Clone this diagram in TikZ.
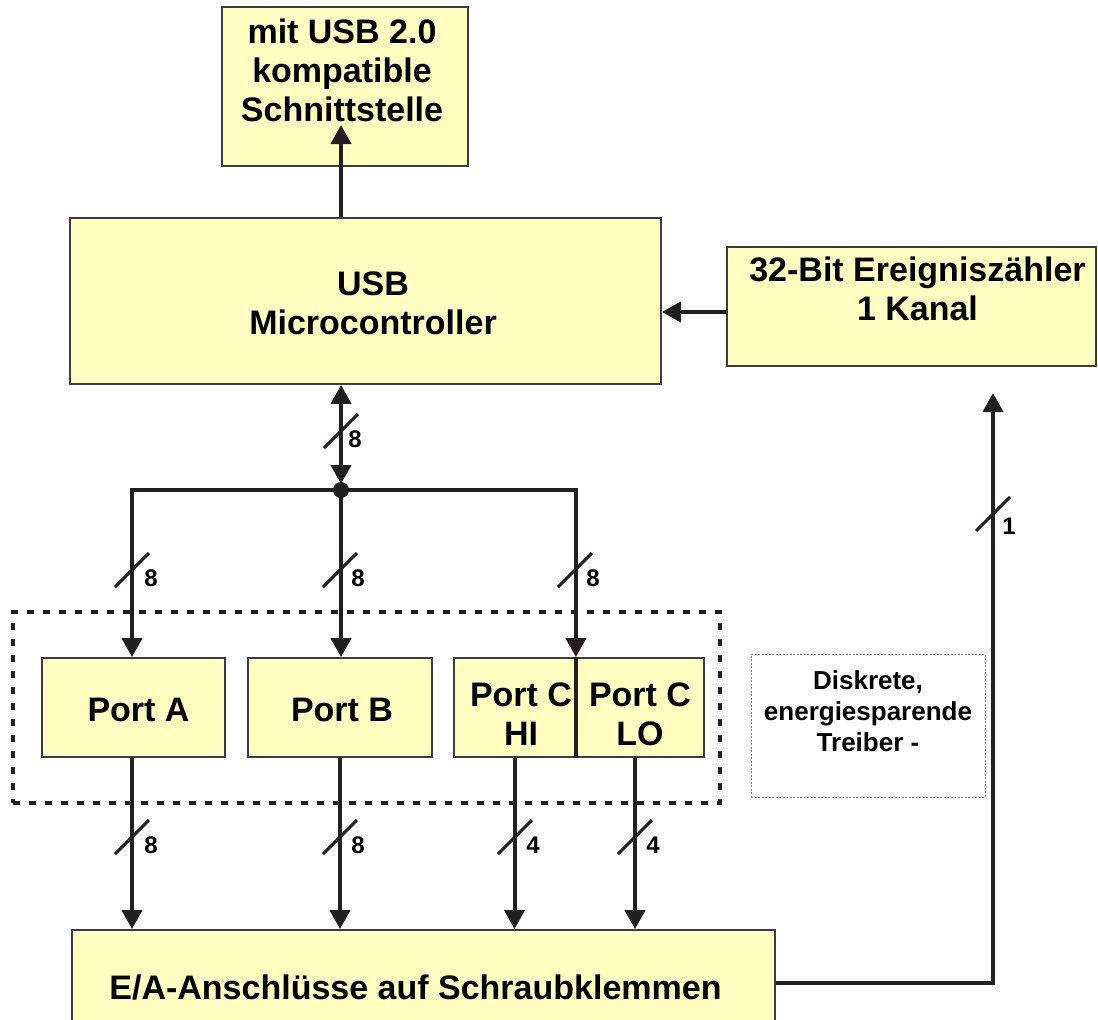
\documentclass[tikz,border=0pt]{standalone}
\usepackage{fontspec}
\setmainfont{Liberation Sans}
\usetikzlibrary{arrows.meta,calc}
\definecolor{boxfill}{RGB}{255,255,194}
\definecolor{ink}{RGB}{35,31,32}
\definecolor{edge}{RGB}{60,60,60}
\newcommand\busslash[2]{\draw[slash] (#1-17,#2+17) -- (#1+17,#2-17);}
\begin{document}
\begin{tikzpicture}[x=1pt,y=-1pt,
  box/.style={draw=edge,line width=1.8pt,fill=boxfill,inner sep=0pt,anchor=center},
  txt/.style={font=\bfseries\fontsize{34}{39}\selectfont,align=center,inner sep=0pt,text=black},
  smalltxt/.style={font=\bfseries\fontsize{26}{31}\selectfont,align=center,inner sep=0pt,text=black},
  lbl/.style={font=\bfseries\fontsize{24}{28}\selectfont,inner sep=0pt,text=black},
  wire/.style={draw=ink,line width=4pt},
  arr/.style={wire,-{Triangle[width=20pt,length=19pt]}},
  arrtwo/.style={wire,{Triangle[width=20pt,length=19pt]}-{Triangle[width=20pt,length=19pt]}},
  slash/.style={draw=ink,line width=3pt},
  grp/.style={draw=ink,line width=4pt,dash pattern=on 7pt off 9pt,inner sep=0pt},
  drvbox/.style={draw=gray,line width=1pt,dash pattern=on 2pt off 1.5pt,inner sep=0pt}]
\useasboundingbox (0,0) rectangle (1098,1020);
\fill[white] (0,0) rectangle (1098,1020);

% boxes
\node[box,minimum width=246pt,minimum height=159pt] (usb) at (345,86.5) {};
\node[box,minimum width=591pt,minimum height=166pt] (mc) at (365.5,301) {};
\node[box,minimum width=369pt,minimum height=119pt] (cnt) at (911.5,306.5) {};
\node[grp,minimum width=707pt,minimum height=191pt] (group) at (366.5,707.5) {};
\node[box,minimum width=183pt,minimum height=99pt] (pa) at (133.5,707.5) {};
\node[box,minimum width=184pt,minimum height=99pt] (pb) at (340,707.5) {};
\node[box,minimum width=121pt,minimum height=99pt] (hi) at (514.5,707.5) {};
\node[box,minimum width=129pt,minimum height=99pt] (lo) at (639.5,707.5) {};
\node[drvbox,minimum width=234pt,minimum height=143pt] (drv) at (868,725.5) {};
\node[box,minimum width=703pt,minimum height=106pt] (ea) at (423.5,983) {};

% texts
\node[txt] (tusb) at (342,70) {mit USB 2.0\\kompatible\\Schnittstelle};
\node[txt] (tmc) at (373,303) {USB\\Microcontroller};
\node[txt] (tcnt) at (917.5,289) {32-Bit Ereigniszähler\\1 Kanal};
\node[txt] (tpa) at (138.5,709.5) {Port A};
\node[txt] (tpb) at (342,709.5) {Port B};
\node[txt] (thi) at (521,714) {Port C\\HI};
\node[txt] (tlo) at (640,714) {Port C\\LO};
\node[smalltxt] (tdrv) at (868,711) {Diskrete,\\energiesparende\\Treiber -};
\node[txt] (tea) at (415.5,988) {E/A-Anschlüsse auf Schraubklemmen};

% coordinates
\coordinate (usbtip) at (341,125);
\coordinate (dot) at (341,490);
\coordinate (cnttip) at (993,393);

% Port C divider
\draw[wire] (hi.north east) -- (hi.south east);

% connectors
\draw[arr] (mc.north -| usbtip) -- (usbtip);
\draw[arr] ([yshift=-5.5pt]cnt.west) -- ([yshift=-5.5pt]cnt.west -| mc.east);
\draw[arrtwo,shorten >=6pt] (mc.south -| dot) -- (dot);
\draw[arr] (dot) -| ([xshift=-1.5pt]pa.north);
\draw[arr] (dot) -- (dot |- pb.north);
\draw[arr] (dot) -| (hi.north east);
\fill[ink] (dot) circle (8pt);
\draw[arr] ([xshift=-1.5pt]pa.south) -- ([xshift=-1.5pt]pa.south |- ea.north);
\draw[arr] (pb.south) -- (pb.south |- ea.north);
\draw[arr] (hi.south) -- (hi.south |- ea.north);
\draw[arr] ([xshift=-4.5pt]lo.south) -- ([xshift=-4.5pt]lo.south |- ea.north);
\draw[arr] (ea.east) -| (cnttip);

% bus width marks
\busslash{341}{431}
\busslash{132}{570}
\busslash{340}{570}
\busslash{575}{570}
\busslash{132}{837}
\busslash{340}{837}
\busslash{515}{837}
\busslash{635}{837}
\busslash{993}{514}
\node[lbl] (l0) at (355,439) {8};
\node[lbl] (l1) at (151,578) {8};
\node[lbl] (l2) at (358,578) {8};
\node[lbl] (l3) at (593,578) {8};
\node[lbl] (l4) at (151,845) {8};
\node[lbl] (l5) at (358,845) {8};
\node[lbl] (l6) at (533,845) {4};
\node[lbl] (l7) at (653,845) {4};
\node[lbl] (l8) at (1009,526) {1};
\end{tikzpicture}
\end{document}
